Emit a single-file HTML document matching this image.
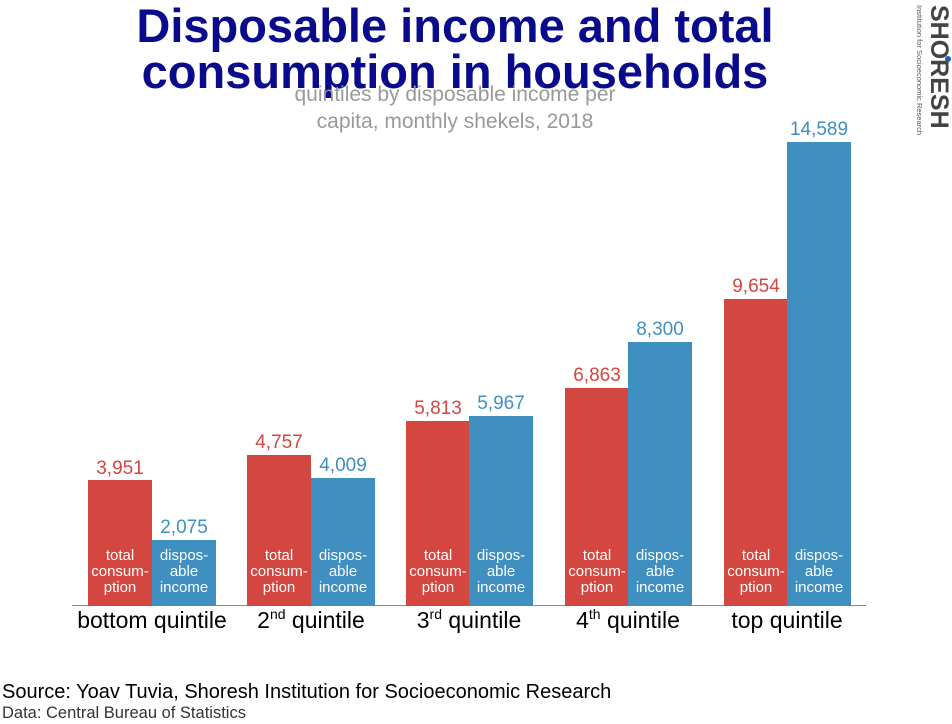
<!DOCTYPE html>
<html><head><style>
body{margin:0;width:952px;height:724px;background:#fff;position:relative;overflow:hidden;font-family:"Liberation Sans",sans-serif}
.a{position:absolute}
.t{left:0;width:910px;text-align:center;color:#0a0a8c;font-weight:bold;font-size:47px;line-height:46px}
.sub{left:0;width:910px;text-align:center;color:#999;font-size:21px;line-height:27px}
.b{position:absolute;bottom:118px;width:64px}
.r{background:#d44640}.u{background:#3f8fc1}
.v{position:absolute;width:90px;text-align:center;font-size:19px;line-height:20px}
.in{position:absolute;bottom:10px;left:-5px;width:74px;text-align:center;color:#fff;font-size:15px;line-height:16px}
.q{position:absolute;top:607px;width:200px;text-align:center;font-size:23px;line-height:26px;color:#000}
sup{font-size:14px;vertical-align:9px;line-height:0}
</style></head><body>
<div class="a t" style="top:3px">Disposable income and total<br>consumption in households</div>
<div class="a sub" style="top:81px">quintiles by disposable income per<br>capita, monthly shekels, 2018</div>
<div class="a" style="left:922px;top:5px;transform-origin:0 0;transform:rotate(90deg);">
<div style="position:absolute;left:0;top:-30px;font-weight:900;font-size:25px;color:#444;letter-spacing:0px;line-height:26px;white-space:nowrap">SHORESH</div>
<div style="position:absolute;left:0;top:-2px;font-size:7.5px;color:#555;white-space:nowrap;line-height:9px">Institution for Socioeconomic Research</div>
</div>
<div class="a" style="left:945px;top:56px;width:6px;height:6px;border-radius:3px;background:#1a5fb4"></div>

<div class="a" style="left:72px;top:605px;width:794px;height:1px;background:#888"></div>

<div class="b r" style="left:88px;height:126px"><div class="in">total<br>consum-<br>ption</div></div>
<div class="b u" style="left:152px;height:66px"><div class="in">dispos-<br>able<br>income</div></div>
<div class="b r" style="left:247px;height:151px"><div class="in">total<br>consum-<br>ption</div></div>
<div class="b u" style="left:311px;height:128px"><div class="in">dispos-<br>able<br>income</div></div>
<div class="b r" style="left:406px;height:185px"><div class="in">total<br>consum-<br>ption</div></div>
<div class="b u" style="left:469px;height:190px"><div class="in">dispos-<br>able<br>income</div></div>
<div class="b r" style="left:565px;height:218px"><div class="in">total<br>consum-<br>ption</div></div>
<div class="b u" style="left:628px;height:264px"><div class="in">dispos-<br>able<br>income</div></div>
<div class="b r" style="left:724px;height:307px"><div class="in">total<br>consum-<br>ption</div></div>
<div class="b u" style="left:787px;height:464px"><div class="in">dispos-<br>able<br>income</div></div>

<div class="v" style="left:75px;top:459px;color:#d44640">3,951</div>
<div class="v" style="left:139px;top:518px;color:#3f8fc1">2,075</div>
<div class="v" style="left:234px;top:433px;color:#d44640">4,757</div>
<div class="v" style="left:298px;top:456px;color:#3f8fc1">4,009</div>
<div class="v" style="left:393px;top:399px;color:#d44640">5,813</div>
<div class="v" style="left:456px;top:394px;color:#3f8fc1">5,967</div>
<div class="v" style="left:552px;top:366px;color:#d44640">6,863</div>
<div class="v" style="left:615px;top:320px;color:#3f8fc1">8,300</div>
<div class="v" style="left:711px;top:277px;color:#d44640">9,654</div>
<div class="v" style="left:774px;top:120px;color:#3f8fc1">14,589</div>

<div class="q" style="left:52px">bottom quintile</div>
<div class="q" style="left:211px">2<sup>nd</sup> quintile</div>
<div class="q" style="left:369px">3<sup>rd</sup> quintile</div>
<div class="q" style="left:528px">4<sup>th</sup> quintile</div>
<div class="q" style="left:687px">top quintile</div>

<div class="a" style="left:2px;top:681px;font-size:20px;color:#000">Source: Yoav Tuvia, Shoresh Institution for Socioeconomic Research</div>
<div class="a" style="left:2px;top:704px;font-size:16.5px;color:#333">Data: Central Bureau of Statistics</div>
</body></html>
